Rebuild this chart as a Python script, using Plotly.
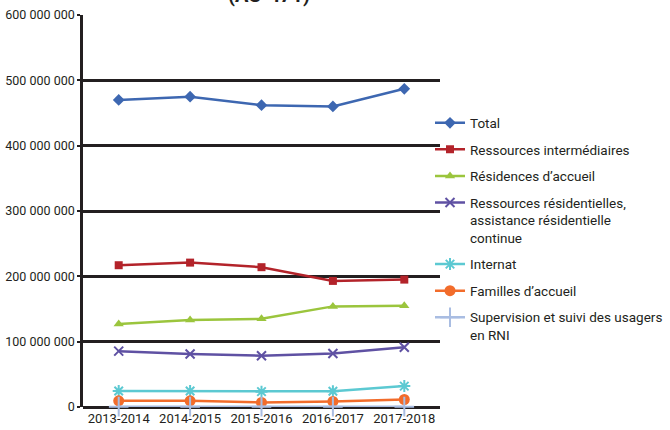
import plotly.graph_objects as go

years = ["2013-2014", "2014-2015", "2015-2016", "2016-2017", "2017-2018"]

total = [470_000_000, 475_000_000, 462_000_000, 460_000_000, 487_000_000]
ressources_interm = [217_000_000, 221_000_000, 214_000_000, 193_000_000, 195_000_000]
residences_accueil = [127_000_000, 133_000_000, 135_000_000, 154_000_000, 155_000_000]
ressources_resid = [85_500_000, 81_000_000, 78_500_000, 82_000_000, 91_500_000]
internat = [24_500_000, 24_500_000, 23_500_000, 24_000_000, 32_000_000]
familles_accueil = [9_500_000, 9_500_000, 7_000_000, 8_500_000, 11_500_000]
supervision_rni = [500_000, 500_000, 500_000, 500_000, 500_000]

tick_vals = [0, 100_000_000, 200_000_000, 300_000_000, 400_000_000, 500_000_000, 600_000_000]
tick_text = ["0", "100 000 000", "200 000 000", "300 000 000", "400 000 000", "500 000 000", "600 000 000"]

series = [
    ("Total", total, "#3d67b1", "diamond", 9, 0),
    ("Ressources intermédiaires", ressources_interm, "#b3232a", "square", 8, 0),
    ("Résidences d’accueil", residences_accueil, "#9bc53d", "triangle-up", 9, 0),
    ("Ressources résidentielles,<br>assistance résidentielle<br>continue", ressources_resid, "#5f51a3", "x-thin", 9, 2),
    ("Internat", internat, "#5cc9d2", "asterisk", 10, 2),
    ("Familles d’accueil", familles_accueil, "#f26c2b", "circle", 11, 0),
    ("Supervision et suivi des usagers<br>en RNI", supervision_rni, "#a9bde2", "cross-thin", 14, 2),
]

FONT = "Roboto, Liberation Sans, sans-serif"
INK = "#231f20"

fig = go.Figure()
for i, (name, vals, color, symbol, size, lw) in enumerate(series):
    fig.add_trace(go.Scatter(
        x=years, y=vals, name=name, mode="lines+markers",
        legendgroup=f"g{i}",
        line=dict(color=color, width=2.5),
        marker=dict(symbol=symbol, size=size, color=color,
                    line=dict(color=color, width=lw)),
        cliponaxis=False,
    ))

fig.update_layout(
    width=670, height=430,
    margin=dict(l=83, r=230, t=15, b=23, autoexpand=False),
    paper_bgcolor="white", plot_bgcolor="white",
    font=dict(family=FONT, size=14, color=INK),
    showlegend=True,
    legend=dict(
        x=0.972, y=0.764, xanchor="left", yanchor="top",
        font=dict(family=FONT, size=13.5, color=INK),
        tracegroupgap=6, itemwidth=30, valign="top",
        bgcolor="rgba(0,0,0,0)",
    ),
    xaxis=dict(
        type="category", range=[-0.5, 4.5], automargin=False,
        showgrid=False, showline=False, zeroline=False,
        ticks="", tickangle=0, ticklabelstandoff=2,
        tickfont=dict(family=FONT, size=13, color=INK),
    ),
    yaxis=dict(
        range=[0, 600_000_000], tickvals=tick_vals, ticktext=tick_text,
        automargin=False,
        showgrid=True, gridcolor=INK, gridwidth=2.5,
        zeroline=True, zerolinecolor=INK, zerolinewidth=2.5,
        showline=True, linecolor=INK, linewidth=2.5,
        ticks="outside", ticklen=3, tickwidth=2, tickcolor=INK,
        tickfont=dict(family=FONT, size=12.5, color=INK),
    ),
    annotations=[dict(
        text="<b>(AS-471)</b>", xref="paper", yref="paper",
        x=0.52, y=1.0, yshift=6, xanchor="center", yanchor="bottom",
        showarrow=False, font=dict(family=FONT, size=20, color=INK),
    )],
)

fig.write_html("out.html")
